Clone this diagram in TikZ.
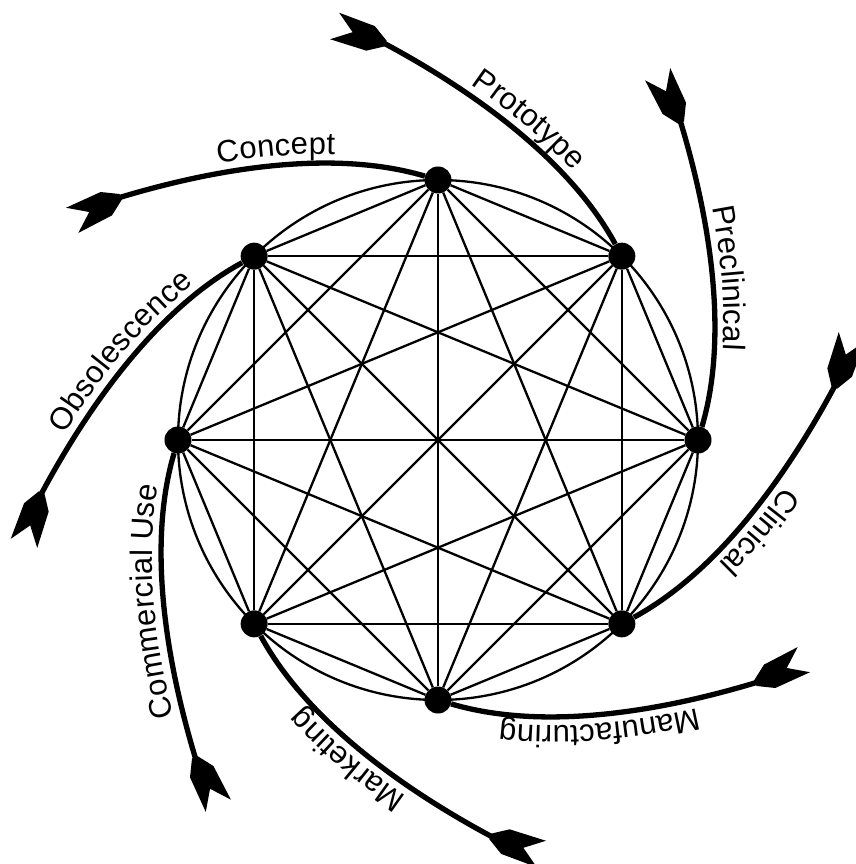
\documentclass[tikz,border=0pt]{standalone}
\usepackage{fontspec}
\setmainfont{Liberation Sans}
\usetikzlibrary{decorations.text}
\newcommand{\labfont}{\fontsize{31}{36}\selectfont}
\begin{document}
\begin{tikzpicture}[x=1pt,y=1pt,
  dot/.style={circle, fill=black, inner sep=0pt, minimum size=27pt},
  chord/.style={line width=2.3pt},
  spiral/.style={line width=5.3pt},
  fletch/.style={fill=black}]
\useasboundingbox (-438,-424) rectangle (417,440);
\draw[chord] (0,0) circle[radius=260pt];
\foreach \k in {0,...,7} \node[dot] (d\k) at ({90-45*\k}:260) {};
\foreach \i in {0,...,6} {
  \pgfmathtruncatemacro\nxt{\i+1}
  \foreach \j in {\nxt,...,7} \draw[chord] (d\i) -- (d\j);
}
\foreach \k/\lab in {0/Concept,1/Prototype,2/Preclinical,3/Clinical,4/Manufacturing,5/Marketing,6/Commercial Use,7/Obsolescence} {
  \begin{scope}[rotate=-45*\k]
    \coordinate (e\k) at (-320,242);
    \draw[spiral] (d\k) .. controls (-103,290.5) and (-218,273) .. (e\k);
    \begin{scope}[shift={(e\k)}, rotate=206]
      \fill[fletch] (-3,3) -- (13,13) -- (51,14) -- (32,0) -- (51,-14) -- (13,-13) -- (-3,-3) -- cycle;
    \end{scope}
    \path[decorate, decoration={text along path, text/.expanded={|\noexpand\labfont|\lab}, text align=center, raise=10pt}]
      (-320,242) .. controls (-218,273) and (-103,290.5) .. (0,260);
  \end{scope}
}
\end{tikzpicture}
\end{document}
